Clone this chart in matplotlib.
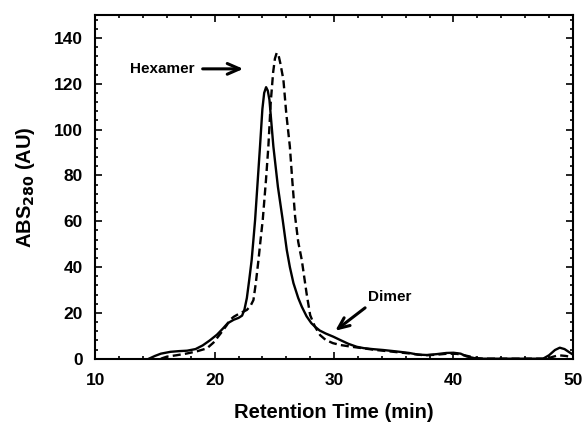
import matplotlib
matplotlib.use("Agg")
import matplotlib.pyplot as plt
from matplotlib.ticker import MultipleLocator

plt.rcParams['font.family'] = ['Liberation Sans', 'DejaVu Sans']
plt.rcParams['font.weight'] = 'bold'

# Chromatogram traces (retention time in min, absorbance at 280 nm)
solid_t = [14.5, 15.0, 15.5, 16.3, 17.0, 17.7, 18.4, 19.0, 19.6, 20.2, 20.7, 21.1,
           21.6, 22.0, 22.3, 22.5, 22.7, 22.9, 23.1, 23.25, 23.39, 23.6, 23.8,
           24.0, 24.15, 24.31, 24.45, 24.59, 24.92, 25.3, 25.7, 26.04, 26.3, 26.6,
           27.0, 27.3, 27.7, 28.1, 28.4, 28.8, 29.3, 29.94, 30.5, 31.2, 31.9, 32.5,
           33.2, 34.1, 35.0, 35.5, 36.3, 37.0, 37.8, 38.6, 39.4, 40.0, 40.6, 41.1,
           41.8, 42.5, 47.5, 48.0, 48.5, 48.9, 49.3, 49.7, 50.0]
solid_abs = [0.0, 1.2, 2.2, 3.0, 3.3, 3.5, 4.2, 5.8, 8.0, 10.5, 13.2, 15.5,
             17.0, 17.8, 18.8, 21.5, 26.5, 34.5, 43.0, 52.0, 60.6, 77.0, 92.6,
             109.0, 116.0, 118.5, 117.0, 113.0, 92.6, 75.0, 60.6, 47.5, 40.0, 33.0,
             26.5, 22.7, 18.5, 15.5, 14.0, 12.3, 11.0, 9.6, 8.2, 6.5, 5.2, 4.6,
             4.2, 3.8, 3.3, 3.0, 2.5, 1.8, 1.6, 2.0, 2.5, 2.6, 2.2, 1.0,
             0.2, 0.0, 0.0, 1.5, 3.8, 4.8, 4.2, 2.8, 1.8]

dashed_t = [15.5, 16.0, 16.8, 17.7, 18.5, 19.35, 19.9, 20.5, 21.0, 21.3, 21.6, 22.0,
            22.4, 22.7, 23.0, 23.25, 23.45, 23.67, 23.85, 24.03, 24.3, 24.5, 24.7,
            24.9, 25.05, 25.2, 25.35, 25.5, 25.76, 26.0, 26.3, 26.5, 26.74, 27.0,
            27.3, 27.7, 28.0, 28.4, 28.83, 29.3, 29.9, 30.5, 31.5, 32.5, 33.5, 35.0,
            36.3, 37.5, 38.5, 39.5, 40.3, 41.0, 42.0, 42.5, 47.8, 48.3, 48.8, 49.4,
            50.0]
dashed_abs = [0.0, 0.9, 1.5, 2.3, 3.2, 4.5, 7.0, 11.0, 14.5, 17.0, 18.3, 19.5,
              20.5, 21.3, 23.0, 25.6, 33.0, 43.0, 52.0, 60.6, 78.0, 92.6, 112.0,
              125.0, 131.0, 133.5, 132.5, 129.0, 121.7, 107.0, 92.6, 78.0, 62.0, 51.0,
              43.0, 28.5, 19.0, 14.0, 10.3, 8.2, 6.8, 6.0, 5.2, 4.5, 3.8, 3.0,
              2.3, 1.5, 1.7, 2.2, 2.1, 1.4, 0.2, 0.0, 0.0, 0.8, 1.5, 1.2,
              0.6]

x_ticks = [10, 20, 30, 40, 50]
y_ticks = [0, 20, 40, 60, 80, 100, 120, 140]

fig = plt.figure(figsize=(5.84, 4.23), dpi=100)
ax = fig.add_axes([0.163, 0.152, 0.818, 0.8125])

ax.plot(solid_t, solid_abs, color='black', lw=1.7, solid_joinstyle='round')
ax.plot(dashed_t, dashed_abs, color='black', lw=1.7, dashes=(3.4, 1.8))

ax.set_xlim(10, 50)
ax.set_ylim(0, 150)
ax.set_xticks(x_ticks)
ax.set_yticks(y_ticks)
ax.xaxis.set_minor_locator(MultipleLocator(2))
ax.yaxis.set_minor_locator(MultipleLocator(4))
ax.tick_params(which='both', direction='in', top=True, right=True, width=1.2)
ax.tick_params(which='major', length=5, labelsize=12.5)
ax.tick_params(which='minor', length=2.5)
ax.tick_params(axis='x', which='major', pad=10)
ax.tick_params(axis='y', which='major', pad=9)
for lab in ax.get_xticklabels() + ax.get_yticklabels():
    lab.set_fontweight('bold')
for sp in ax.spines.values():
    sp.set_linewidth(1.5)

ax.set_xlabel('Retention Time (min)', fontsize=14.5, fontweight='bold', labelpad=11)
ax.set_ylabel('ABS$_{\\mathbf{280}}$ (AU)', fontsize=14.5, fontweight='bold', labelpad=12)

# Peak annotations
arrow_style = dict(arrowstyle='->,head_length=0.8,head_width=0.35',
                   lw=2.2, color='black')
ax.annotate('Hexamer', xy=(22.4, 126.5), xytext=(12.9, 126.5),
            fontsize=11, fontweight='bold', va='center', ha='left',
            arrowprops=dict(shrinkA=4, shrinkB=0, **arrow_style))
ax.annotate('', xy=(30.1, 12.2), xytext=(32.6, 22.2),
            arrowprops=dict(shrinkA=0, shrinkB=0, **arrow_style))
ax.text(34.7, 27, 'Dimer', fontsize=11, fontweight='bold', ha='center', va='center')

fig.savefig('out.png', dpi=100)
